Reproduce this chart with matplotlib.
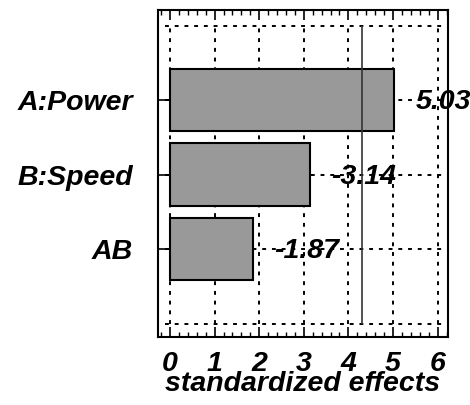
import matplotlib
matplotlib.use('Agg')
import matplotlib.pyplot as plt
from matplotlib.ticker import MultipleLocator

plt.rcParams['font.family'] = ['Liberation Sans', 'DejaVu Sans']

factors = ['A:Power', 'B:Speed', 'AB']
effects = [5.03, -3.14, -1.87]
critical = 4.303
xticks = [0, 1, 2, 3, 4, 5, 6]

fig = plt.figure(figsize=(4.7, 4.05), dpi=100)
ax = fig.add_axes([0.336, 0.168, 0.617, 0.807])

ypos = [3, 2, 1]
fs = 20.5
font = dict(fontsize=fs, fontweight='bold', fontstyle='italic')

# grid drawn by hand so it stays inside 0..4
dash = (0, (2, 3))
ax.vlines(xticks, 0, 4, colors='black', linestyles=dash, linewidth=1.4, zorder=1)
ax.hlines([0, 1, 2, 3, 4], -0.12, 6.15, colors='black', linestyles=dash, linewidth=1.4, zorder=1)

ax.barh(ypos, [abs(e) for e in effects], height=0.84, color='#999999',
        edgecolor='black', linewidth=1.5, zorder=2)

ax.vlines(critical, 0, 4, colors='#333333', linewidth=1.2, zorder=3)

for y, e in zip(ypos, effects):
    ax.text(abs(e) + 0.47, y - 0.03, f'{e:.2f}', ha='left', va='center', zorder=4, **font)

ax.set_xlim(-0.27, 6.23)
ax.set_ylim(-0.18, 4.21)
ax.set_xticks(xticks)
ax.set_xticklabels([str(t) for t in xticks], **font)
ax.xaxis.set_minor_locator(MultipleLocator(0.2))
ax.set_yticks(ypos)
ax.set_yticklabels(factors, **font)
ax.tick_params(axis='x', which='major', direction='in', top=True, length=7, width=1.2, pad=10)
ax.tick_params(axis='x', which='minor', direction='in', top=True, length=3.5, width=1)
ax.tick_params(axis='y', direction='in', length=8.5, width=1.2, pad=18)
ax.set_xlabel('standardized effects', labelpad=-4, **font)

for s in ax.spines.values():
    s.set_linewidth(1.5)

fig.savefig('out.png', dpi=100)
